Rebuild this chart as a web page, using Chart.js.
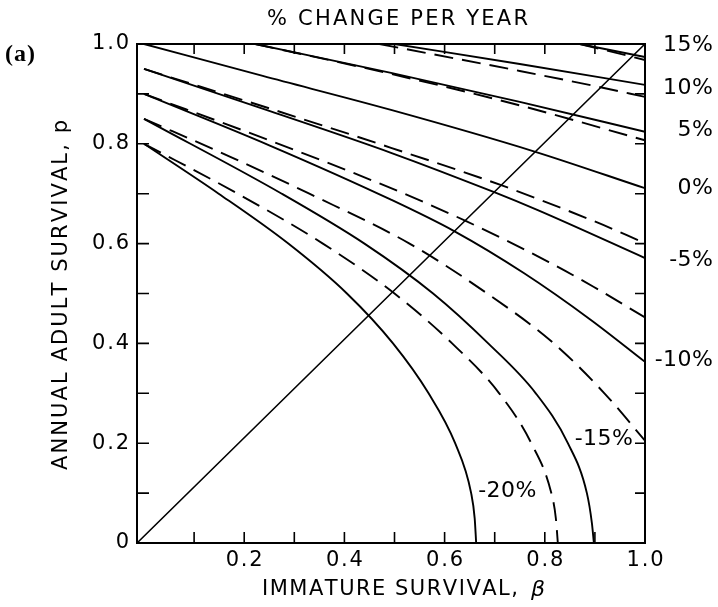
<!DOCTYPE html>
<html>
<head>
<meta charset="utf-8">
<script src="https://cdn.jsdelivr.net/npm/chart.js@4.4.1/dist/chart.umd.min.js"></script>
<style>
  html, body { margin: 0; padding: 0; background: #fff; }
</style>
</head>
<body>
<canvas id="chart" width="718" height="607"></canvas>
<script>
// axis range (left edge sits slightly before 0 like the original drawing)
const xMin = -0.014
const xMax = 1.0

const tickSteps = [0.1, 0.2, 0.3, 0.4, 0.5, 0.6, 0.7, 0.8, 0.9]
const xTickLabels = ['0.2', '0.4', '0.6', '0.8', '1.0']
const xTickValues = [0.2, 0.4, 0.6, 0.8, 1.0]
const yTickLabels = ['0', '0.2', '0.4', '0.6', '0.8', '1.0']
const yTickValues = [0, 0.2, 0.4, 0.6, 0.8, 1.0]

// curves: [beta, p]
const pos15Solid = [[0.87, 1.0], [1.0, 0.974]]
const pos15Dash  = [[0.87, 1.0], [1.0, 0.968]]
const pos10Solid = [[0.50, 1.0], [0.75, 0.96], [1.0, 0.918]]
const pos10Dash  = [[0.47, 1.0], [0.75, 0.946], [0.908, 0.914], [1.0, 0.894]]
const pos5Solid  = [[0.222, 1.0], [0.493, 0.942], [0.75, 0.884], [1.0, 0.824]]
const pos5Dash   = [[0.222, 1.0], [0.493, 0.940], [0.75, 0.877], [1.0, 0.807]]
const zeroSolid  = [[0, 1.0], [0.237, 0.936], [0.493, 0.868], [0.778, 0.785], [1.0, 0.711]]
const neg5Solid  = [[0, 0.95], [0.25, 0.866], [0.493, 0.782], [0.699, 0.703], [0.786, 0.667], [1.0, 0.571]]
const neg5Dash   = [[0, 0.95], [0.25, 0.871], [0.493, 0.792], [0.713, 0.717], [0.898, 0.645], [1.0, 0.601]]
const neg10Solid = [[0, 0.90], [0.25, 0.797], [0.493, 0.688], [0.619, 0.625], [0.758, 0.541], [0.892, 0.447], [1.0, 0.363]]
const neg10Dash  = [[0, 0.90], [0.25, 0.807], [0.493, 0.711], [0.643, 0.645], [0.808, 0.563], [0.898, 0.513], [1.0, 0.452]]
const neg15Solid = [[0, 0.85], [0.275, 0.7], [0.44, 0.6], [0.577, 0.5], [0.687, 0.4], [0.782, 0.3], [0.846, 0.2],
                    [0.884, 0.1], [0.894, 0.04], [0.898, 0]]
const neg15Dash  = [[0, 0.85], [0.17, 0.775], [0.33, 0.7], [0.53, 0.6], [0.685, 0.5], [0.818, 0.4], [0.919, 0.3], [1.0, 0.205]]
const neg20Solid = [[0, 0.80], [0.149, 0.7], [0.288, 0.6], [0.405, 0.5], [0.497, 0.4], [0.568, 0.3], [0.621, 0.2],
                    [0.653, 0.1], [0.660, 0.05], [0.663, 0]]
const neg20Dash  = [[0, 0.80], [0.187, 0.7], [0.357, 0.6], [0.50, 0.5], [0.615, 0.4], [0.709, 0.3], [0.773, 0.2],
                    [0.813, 0.1], [0.822, 0.05], [0.826, 0]]
const diagonal   = [[xMin, 0], [1.0, 1.0]]

// curve labels
const rightLabels = ['15%', '10%', '5%', '0%', '-5%', '-10%']
const rightLabelP = [0.997, 0.912, 0.828, 0.711, 0.567, 0.367]
const innerLabels = ['-15%', '-20%']
const innerLabelBeta = [0.976, 0.667]
const innerLabelP = [0.208, 0.104]


function line(pts, dashed, width) {
    return {
        data: pts.map(d => ({x: d[0], y: d[1]})),
        showLine: true,
        borderColor: '#000',
        borderWidth: width || 1.9,
        borderDash: dashed ? [19, 9] : [],
        pointRadius: 0,
        cubicInterpolationMode: 'monotone',
        fill: false
    }
}

// draws text char by char; gap between letters, or stretched to a width
function spaced(ctx, text, x, y, gap, align, width) {
    const chars = [...text]
    const widths = chars.map(c => ctx.measureText(c).width)
    const sum = widths.reduce((a, b) => a + b, 0)
    if (width) gap = (width - sum) / (chars.length - 1)
    const total = sum + gap * (chars.length - 1)
    let cx = x
    if (align === 'center') cx = x - total / 2
    if (align === 'right') cx = x - total
    ctx.textAlign = 'left'
    chars.forEach((c, i) => {
        ctx.fillText(c, cx, y)
        cx += widths[i] + gap
    })
    return cx - gap
}

const framePlugin = {
    id: 'frame',
    afterDraw(chart) {
        const ctx = chart.ctx
        const a = chart.chartArea
        const xs = chart.scales.x
        const ys = chart.scales.y
        ctx.save()
        ctx.strokeStyle = '#000'
        ctx.fillStyle = '#000'
        ctx.lineWidth = 2
        ctx.strokeRect(a.left, a.top, a.right - a.left, a.bottom - a.top)

        // inward ticks on all four sides
        ctx.lineWidth = 1.6
        ctx.beginPath()
        tickSteps.forEach(v => {
            const px = xs.getPixelForValue(v)
            ctx.moveTo(px, a.bottom); ctx.lineTo(px, a.bottom - 11)
            ctx.moveTo(px, a.top); ctx.lineTo(px, a.top + 10)
            const py = ys.getPixelForValue(v)
            ctx.moveTo(a.left, py); ctx.lineTo(a.left + 12, py)
            ctx.moveTo(a.right, py); ctx.lineTo(a.right - 10, py)
        })
        ctx.stroke()

        ctx.textBaseline = 'middle'
        ctx.font = '21px "DejaVu Sans"'
        xTickValues.forEach((v, i) => {
            spaced(ctx, xTickLabels[i], xs.getPixelForValue(v), a.bottom + 18, 1.8, 'center')
        })
        yTickValues.forEach((v, i) => {
            spaced(ctx, yTickLabels[i], a.left - 8, ys.getPixelForValue(v), 1.8, 'right')
        })

        ctx.font = '22px "DejaVu Sans"'
        rightLabels.forEach((t, i) => {
            spaced(ctx, t, a.right + 68, ys.getPixelForValue(rightLabelP[i]), 0.5, 'right')
        })
        innerLabels.forEach((t, i) => {
            const px = xs.getPixelForValue(innerLabelBeta[i])
            const py = ys.getPixelForValue(innerLabelP[i])
            spaced(ctx, t, px, py, 0.5, i === 0 ? 'right' : 'left')
        })

        // titles
        ctx.font = '21px "DejaVu Sans"'
        spaced(ctx, '% CHANGE PER YEAR', 267, 20, 0, 'left', 261)

        ctx.font = '21px "DejaVu Sans"'
        spaced(ctx, 'IMMATURE SURVIVAL,', 262, 590, 0, 'left', 256)
        ctx.font = 'italic 22px "DejaVu Sans"'
        ctx.textAlign = 'left'
        ctx.fillText('\u03B2', 531, 590)

        ctx.save()
        ctx.translate(62, 470)
        ctx.rotate(-Math.PI / 2)
        ctx.font = '21px "DejaVu Sans"'
        spaced(ctx, 'ANNUAL ADULT SURVIVAL, p', 0, 0, 0, 'left', 350)
        ctx.restore()

        ctx.font = 'bold 24px "Liberation Serif"'
        spaced(ctx, '(a)', 5, 55, 1, 'left')
        ctx.restore()
    }
}

new Chart(document.getElementById('chart'), {
    type: 'scatter',
    data: {
        datasets: [
            line(pos15Solid, false), line(pos15Dash, true),
            line(pos10Solid, false), line(pos10Dash, true),
            line(pos5Solid, false), line(pos5Dash, true),
            line(zeroSolid, false),
            line(neg5Solid, false), line(neg5Dash, true),
            line(neg10Solid, false), line(neg10Dash, true),
            line(neg15Solid, false), line(neg15Dash, true),
            line(neg20Solid, false), line(neg20Dash, true),
            line(diagonal, false, 1.6)
        ]
    },
    options: {
        responsive: false,
        animation: false,
        devicePixelRatio: 1,
        layout: {
            padding: {left: 137, right: 73, top: 44, bottom: 64}
        },
        plugins: {
            legend: {display: false},
            tooltip: {enabled: false}
        },
        scales: {
            x: {type: 'linear', min: xMin, max: xMax, display: false},
            y: {type: 'linear', min: 0, max: 1, display: false}
        }
    },
    plugins: [framePlugin]
})
</script>
</body>
</html>
